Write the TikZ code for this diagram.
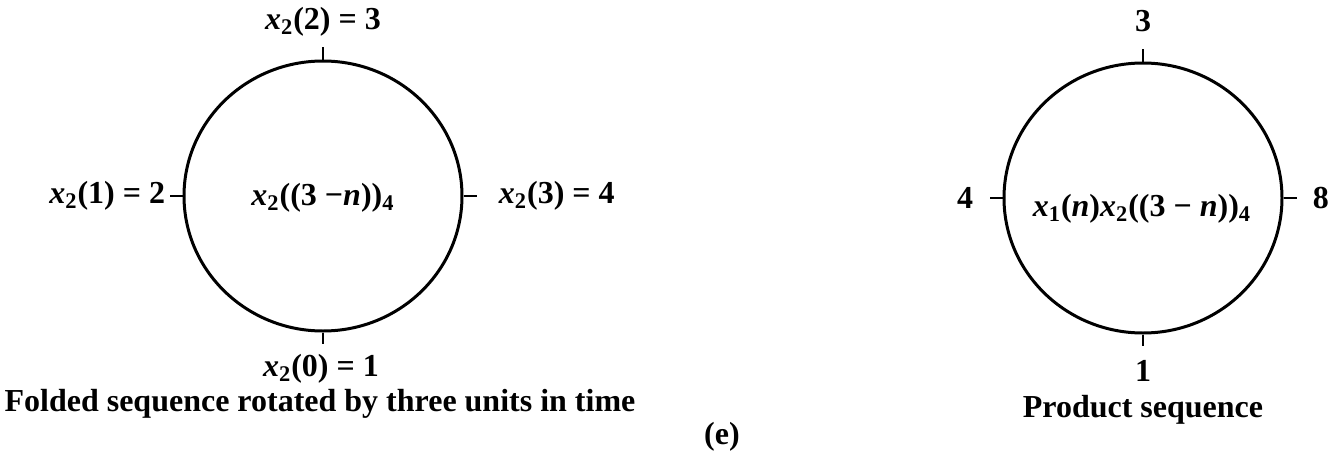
\documentclass[tikz,border=0pt]{standalone}
\usepackage{fontspec}
\setmainfont{Liberation Serif}
\usetikzlibrary{shapes.geometric}
\newcommand{\xsub}[1]{\textit{x}\textsubscript{#1}}

\begin{document}
\begin{tikzpicture}[x=0.5pt,y=0.5pt,
    ring/.style={draw,ellipse,line width=1.5pt,minimum width=139pt,minimum height=135pt,inner sep=0pt},
    lab/.style={font=\fontsize{16}{19}\selectfont\bfseries,inner sep=0pt},
    tick/.style={line width=1.3pt}]
  \useasboundingbox (0,0) rectangle (1341,452);
  \node[ring] (L) at (323,256) {};
  \node[ring] (R) at (1143,254) {};
  \node[lab] (Lmid) at (323,254) {\xsub{2}((3 −\textit{n}))\textsubscript{4}};
  \node[lab] (Rmid) at (1142,243) {\xsub{1}(\textit{n})\xsub{2}((3 − \textit{n}))\textsubscript{4}};
  \foreach \c in {L,R} {
    \draw[tick] (\c.north) -- ++(0,13) coordinate (\c n);
    \draw[tick] (\c.south) -- ++(0,-11) coordinate (\c s);
    \draw[tick] (\c.west) -- ++(-13,0) coordinate (\c w);
    \draw[tick] (\c.east) -- ++(13,0) coordinate (\c e);
  }
  \node[lab,above=5pt] (Ltop) at (Ln) {\xsub{2}(2) = 3};
  \node[lab] (Lbot) at (321,83) {\xsub{2}(0) = 1};
  \node[lab,left=2pt] (Llft) at (Lw) {\xsub{2}(1) = 2};
  \node[lab,right=11pt] (Lrgt) at (Le) {\xsub{2}(3) = 4};
  \node[lab,above=8pt] (Rtop) at (Rn) {3};
  \node[lab,below=7pt] (Rbot) at (Rs) {1};
  \node[lab,left=8pt] (Rlft) at (Rw) {4};
  \node[lab,right=8pt] (Rrgt) at (Re) {8};
  \node[lab] (Lcap) at (320,48) {Folded sequence rotated by three units in time};
  \node[lab] (Rcap) at (1143,42) {Product sequence};
  \node[lab] (fig) at (722,15) {(e)};
\end{tikzpicture}
\end{document}
